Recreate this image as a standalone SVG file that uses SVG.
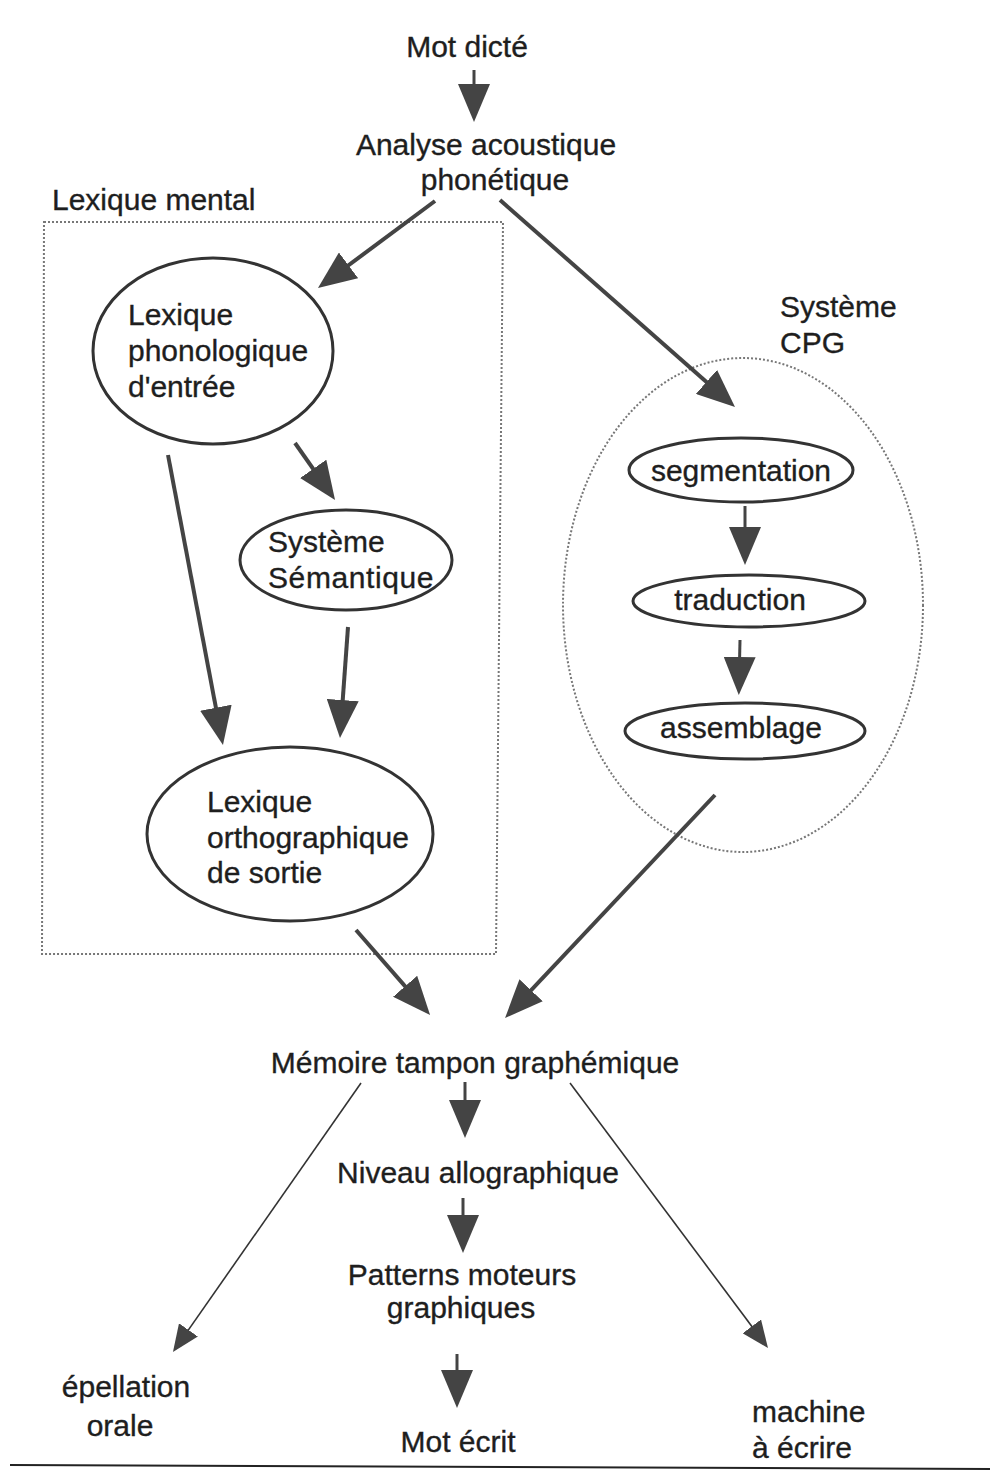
<svg xmlns="http://www.w3.org/2000/svg" width="990" height="1472" viewBox="0 0 990 1472">
<style>
text{font-family:"Liberation Sans",Arial,sans-serif;font-size:30px;fill:#1e1e1e;stroke:#1e1e1e;stroke-width:0.35}
.c{text-anchor:middle}
.node{fill:none;stroke:#333;stroke-width:3}
.dot{fill:none;stroke:#777;stroke-width:2;stroke-dasharray:2 2}
.thick{stroke:#444;stroke-width:4;fill:none}
.stem{stroke:#444;stroke-width:3;fill:none}
.thin{stroke:#333;stroke-width:1.6;fill:none}
</style>
<defs>
<marker id="ah" viewBox="0 0 38 32" refX="28" refY="16" markerWidth="38" markerHeight="32" markerUnits="userSpaceOnUse" orient="auto">
<path d="M0,0 L38,16 L0,32 Z" fill="#444"/>
</marker>
<marker id="ahs" viewBox="0 0 27 23" refX="21" refY="11.5" markerWidth="27" markerHeight="23" markerUnits="userSpaceOnUse" orient="auto">
<path d="M0,0 L27,11.5 L0,23 Z" fill="#444"/>
</marker>
</defs>
<rect width="990" height="1472" fill="#fff"/>

<g id="lexique-mental">
<path class="dot" d="M44,222 L503,222 L496,954 L42,954 Z"/>
<text x="52" y="210">Lexique mental</text>
</g>

<g id="systeme-cpg">
<ellipse class="dot" cx="743" cy="605" rx="180" ry="247"/>
<text x="780" y="317">Système</text>
<text x="780" y="353">CPG</text>
</g>

<g id="mot-dicte"><text class="c" x="467" y="57">Mot dicté</text></g>
<g id="analyse">
<text class="c" x="486" y="155">Analyse acoustique</text>
<text class="c" x="495" y="190">phonétique</text>
</g>

<g id="lexique-phonologique">
<ellipse class="node" cx="213" cy="351" rx="120" ry="93"/>
<text x="128" y="325">Lexique</text>
<text x="128" y="361">phonologique</text>
<text x="128" y="397">d'entrée</text>
</g>

<g id="systeme-semantique">
<ellipse class="node" cx="346" cy="560" rx="106" ry="50"/>
<text x="268" y="552">Système</text>
<text x="268" y="588" letter-spacing="0.6">Sémantique</text>
</g>

<g id="lexique-orthographique">
<ellipse class="node" cx="290" cy="834" rx="143" ry="87"/>
<text x="207" y="812">Lexique</text>
<text x="207" y="848">orthographique</text>
<text x="207" y="883">de sortie</text>
</g>

<g id="segmentation">
<ellipse class="node" cx="741" cy="470" rx="112" ry="32"/>
<text class="c" x="741" y="481">segmentation</text>
</g>
<g id="traduction">
<ellipse class="node" cx="749" cy="601" rx="116" ry="26"/>
<text class="c" x="740" y="610">traduction</text>
</g>
<g id="assemblage">
<ellipse class="node" cx="745" cy="731" rx="120" ry="28"/>
<text class="c" x="741" y="738">assemblage</text>
</g>

<g id="memoire"><text class="c" x="475" y="1073">Mémoire tampon graphémique</text></g>
<g id="niveau"><text class="c" x="478" y="1183">Niveau allographique</text></g>
<g id="patterns">
<text class="c" x="462" y="1285">Patterns moteurs</text>
<text class="c" x="461" y="1318">graphiques</text>
</g>
<g id="mot-ecrit"><text class="c" x="458" y="1452">Mot écrit</text></g>
<g id="epellation">
<text class="c" x="126" y="1397">épellation</text>
<text class="c" x="120" y="1436">orale</text>
</g>
<g id="machine">
<text x="752" y="1422">machine</text>
<text x="752" y="1458">à écrire</text>
</g>

<g id="connectors">
<line class="stem" x1="474" y1="70" x2="474" y2="112" marker-end="url(#ah)"/>
<line class="thick" x1="435" y1="201" x2="326" y2="282" marker-end="url(#ah)"/>
<line class="thick" x1="500" y1="200" x2="727.5" y2="400.4" marker-end="url(#ah)"/>
<line class="thick" x1="295" y1="443" x2="329.3" y2="491.8" marker-end="url(#ah)"/>
<line class="thick" x1="168" y1="455" x2="221.1" y2="735.2" marker-end="url(#ah)"/>
<line class="thick" x1="348" y1="627" x2="340.7" y2="728" marker-end="url(#ah)"/>
<line class="stem" x1="745" y1="506" x2="745" y2="555" marker-end="url(#ah)"/>
<line class="stem" x1="740" y1="640" x2="739" y2="685" marker-end="url(#ah)"/>
<line class="thick" x1="356" y1="930" x2="423.5" y2="1007.4" marker-end="url(#ah)"/>
<line class="thick" x1="715" y1="795" x2="511.9" y2="1010.7" marker-end="url(#ah)"/>
<line class="stem" x1="465" y1="1082" x2="465" y2="1128" marker-end="url(#ah)"/>
<line class="stem" x1="463" y1="1198" x2="463" y2="1243" marker-end="url(#ah)"/>
<line class="stem" x1="457" y1="1354" x2="457" y2="1398" marker-end="url(#ah)"/>
<line class="thin" x1="361" y1="1083" x2="176.4" y2="1347.1" marker-end="url(#ahs)"/>
<line class="thin" x1="570" y1="1083" x2="764.4" y2="1343.2" marker-end="url(#ahs)"/>
</g>

<line x1="10" y1="1465" x2="990" y2="1469" stroke="#222" stroke-width="2"/>
</svg>
